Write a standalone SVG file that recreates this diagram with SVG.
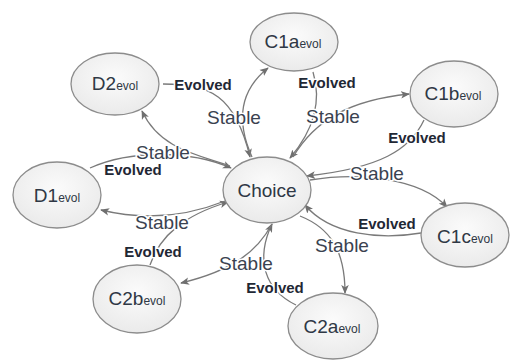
<svg xmlns="http://www.w3.org/2000/svg" width="511" height="360" viewBox="0 0 511 360">
<defs>
<radialGradient id="nf" cx="50%" cy="40%" r="65%">
<stop offset="0" stop-color="#fbfbfb"/>
<stop offset="1" stop-color="#e9e9e9"/>
</radialGradient>
<marker id="ah" viewBox="0 0 10 10" refX="9" refY="5" markerWidth="9" markerHeight="9" markerUnits="userSpaceOnUse" orient="auto">
<path d="M0,0.8 L10,5 L0,9.2 L2.5,5 Z" fill="#6f6f6f"/>
</marker>
</defs>
<style>
.node ellipse{fill:url(#nf);stroke:#8c8c8c;stroke-width:1.3}
.nt{font-family:"Liberation Sans",Arial,sans-serif;font-size:19px;fill:#2f3845;text-anchor:middle}
.sub{font-size:12px}
.edge{fill:none;stroke:#7a7a7a;stroke-width:1.3;marker-end:url(#ah)}
.lbl{font-family:"Liberation Sans",Arial,sans-serif;text-anchor:middle;paint-order:stroke;stroke:#fff;stroke-width:3px;stroke-linejoin:round}
.st{font-size:19px;fill:#3a4250}
.ev{font-size:15px;font-weight:bold;fill:#1f2835}
</style>
<rect width="511" height="360" fill="#fff"/>
<g id="connectors">
<path class="edge" d="M163,84 C210,84 235,95 250,157"/>
<path class="edge" d="M252,157 C240,130 234,95 268,68"/>
<path class="edge" d="M313,72 C320,95 318,125 290,158"/>
<path class="edge" d="M293,157 C315,120 350,100 409,94"/>
<path class="edge" d="M424,120 C410,150 380,168 307,176"/>
<path class="edge" d="M310,180 C360,172 420,178 447,207"/>
<path class="edge" d="M421,233 C380,240 330,235 305,205"/>
<path class="edge" d="M300,216 C330,228 345,250 345,293"/>
<path class="edge" d="M296,305 C265,290 255,260 272,224"/>
<path class="edge" d="M272,224 C258,250 235,270 181,283"/>
<path class="edge" d="M150,265 C160,235 185,215 228,202"/>
<path class="edge" d="M225,201 C190,215 150,222 101,210"/>
<path class="edge" d="M90,168 C130,150 190,150 231,168"/>
<path class="edge" d="M230,166 C200,155 160,150 142,111"/>
</g>
<g id="labels">
<text class="lbl ev" x="203" y="90">Evolved</text>
<text class="lbl st" x="234" y="124">Stable</text>
<text class="lbl ev" x="327" y="88">Evolved</text>
<text class="lbl st" x="333" y="123">Stable</text>
<text class="lbl ev" x="417" y="143">Evolved</text>
<text class="lbl st" x="377" y="180">Stable</text>
<text class="lbl ev" x="387" y="229">Evolved</text>
<text class="lbl st" x="342" y="252">Stable</text>
<text class="lbl ev" x="275" y="293">Evolved</text>
<text class="lbl st" x="246" y="270">Stable</text>
<text class="lbl ev" x="153" y="257">Evolved</text>
<text class="lbl st" x="162" y="229">Stable</text>
<text class="lbl ev" x="133" y="175">Evolved</text>
<text class="lbl st" x="163" y="159">Stable</text>
</g>
<g id="Choice" class="node"><ellipse cx="267" cy="190" rx="44" ry="33"/><text class="nt" x="267" y="197">Choice</text></g>
<g id="D2" class="node"><ellipse cx="115" cy="84" rx="44" ry="31"/><text class="nt" x="115" y="90">D2<tspan class="sub">evol</tspan></text></g>
<g id="C1a" class="node"><ellipse cx="294" cy="42" rx="44" ry="29"/><text class="nt" x="293" y="48">C1a<tspan class="sub">evol</tspan></text></g>
<g id="C1b" class="node"><ellipse cx="454" cy="94" rx="44" ry="33"/><text class="nt" x="453" y="100">C1b<tspan class="sub">evol</tspan></text></g>
<g id="D1" class="node"><ellipse cx="57" cy="195" rx="44" ry="33"/><text class="nt" x="57" y="202">D1<tspan class="sub">evol</tspan></text></g>
<g id="C1c" class="node"><ellipse cx="465" cy="235" rx="44" ry="32"/><text class="nt" x="465" y="243">C1c<tspan class="sub">evol</tspan></text></g>
<g id="C2b" class="node"><ellipse cx="137" cy="299" rx="44" ry="34"/><text class="nt" x="137" y="305">C2b<tspan class="sub">evol</tspan></text></g>
<g id="C2a" class="node"><ellipse cx="333" cy="326" rx="45" ry="33"/><text class="nt" x="332" y="333">C2a<tspan class="sub">evol</tspan></text></g>
</svg>
